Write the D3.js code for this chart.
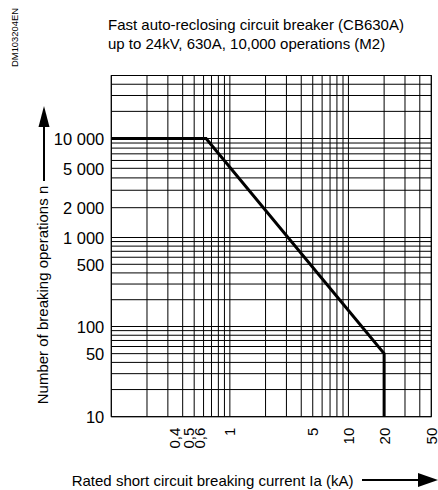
<!DOCTYPE html>
<html><head><meta charset="utf-8">
<script src="https://cdn.jsdelivr.net/npm/d3@7"></script>
<style>body{margin:0;background:#fff} svg{display:block}</style>
</head><body><svg id="c" width="438" height="490"></svg>
<script>
const titleLines = ["Fast auto-reclosing circuit breaker (CB630A)", "up to 24kV, 630A, 10,000 operations (M2)"];
const docCode = "DM103204EN";
const yAxisTitle = "Number of breaking operations n";
const xAxisTitle = "Rated short circuit breaking current Ia (kA)";
const xTickValues = [0.4, 0.5, 0.6, 1, 5, 10, 20, 50];
const xTickLabels = ["0,4", "0,5", "0,6", "1", "5", "10", "20", "50"];
const yTickValues = [10, 50, 100, 500, 1000, 2000, 5000, 10000];
const yTickLabels = ["10", "50", "100", "500", "1 000", "2 000", "5 000", "10 000"];
const curveCurrent = [0.1, 0.63, 20, 20];
const curveOperations = [10000, 10000, 50, 10];

const FONT = "'Liberation Sans', Arial, Helvetica, sans-serif";
const svg = d3.select("#c").style("font-family", FONT);
const L = 111.3, R = 431.3, T = 75.5, B = 416.7;
const x = d3.scaleLog().domain([0.1, 50]).range([L, R]);
const y = d3.scaleLog().domain([10, 100, 1000, 10000, 50000]).range([B, 326.5, 237.5, 138.5, T]);

// grid
const g = svg.append("g");
g.selectAll("line.vx").data(x.ticks()).join("line")
  .attr("x1", d => x(d)).attr("x2", d => x(d)).attr("y1", T).attr("y2", B)
  .attr("stroke", "#000").attr("stroke-width", 1);
g.selectAll("line.hy").data(y.ticks()).join("line")
  .attr("y1", d => y(d)).attr("y2", d => y(d)).attr("x1", L).attr("x2", R)
  .attr("stroke", "#000").attr("stroke-width", 1);
svg.append("rect").attr("x", L).attr("y", T).attr("width", R - L).attr("height", B - T)
  .attr("fill", "none").attr("stroke", "#000").attr("stroke-width", 1);

// curve
const pts = curveCurrent.map((c, i) => [c, curveOperations[i]]);
svg.append("path").datum(pts)
  .attr("d", d3.line().x(d => x(d[0])).y(d => y(d[1])))
  .attr("fill", "none").attr("stroke", "#000").attr("stroke-width", 3).attr("stroke-linejoin", "miter");

// y tick labels
const yAxis = d3.axisLeft(y).tickValues(yTickValues).tickSize(0).tickPadding(7)
  .tickFormat((d, i) => yTickLabels[i]);
const ya = svg.append("g").attr("transform", `translate(${L},0)`).call(yAxis);
ya.select(".domain").remove();
ya.selectAll("text").attr("font-size", 16.5).attr("font-family", FONT).attr("fill", "#000").attr("dy", "0.35em");

// x tick labels (rotated); the crowded sub-1 labels are spread to the left
const spread = d => d < 1 ? -4 - 20 * (0.6 - d) : 0;
const xl = svg.append("g");
xl.selectAll("text").data(xTickValues).join("text")
  .attr("transform", d => `translate(${x(d) + spread(d)},${B + 11}) rotate(-90)`)
  .attr("text-anchor", "end").attr("dy", "0.36em")
  .attr("font-size", 15).attr("fill", "#000")
  .text((d, i) => xTickLabels[i]);

// titles
svg.append("text").attr("x", 108).attr("y", 30).attr("font-size", 15).text(titleLines[0]);
svg.append("text").attr("x", 108).attr("y", 48.5).attr("font-size", 15).text(titleLines[1]);
svg.append("text").attr("transform", "translate(18,37.5) rotate(-90)").attr("text-anchor", "middle")
  .attr("font-size", 9.4).text(docCode);
svg.append("text").attr("transform", "translate(47.5,295) rotate(-90)").attr("text-anchor", "middle")
  .attr("font-size", 15).text(yAxisTitle);
svg.append("text").attr("x", 71.7).attr("y", 485.5).attr("font-size", 15).text(xAxisTitle);

// arrows
svg.append("line").attr("x1", 44).attr("x2", 44).attr("y1", 181).attr("y2", 124).attr("stroke", "#000").attr("stroke-width", 2);
svg.append("path").attr("d", "M44,106 L49.5,127 L38.5,127 Z").attr("fill", "#000");
svg.append("line").attr("x1", 362).attr("x2", 421).attr("y1", 480).attr("y2", 480).attr("stroke", "#000").attr("stroke-width", 2);
svg.append("path").attr("d", "M438,480 L418,473 L418,487 Z").attr("fill", "#000");
</script></body></html>
